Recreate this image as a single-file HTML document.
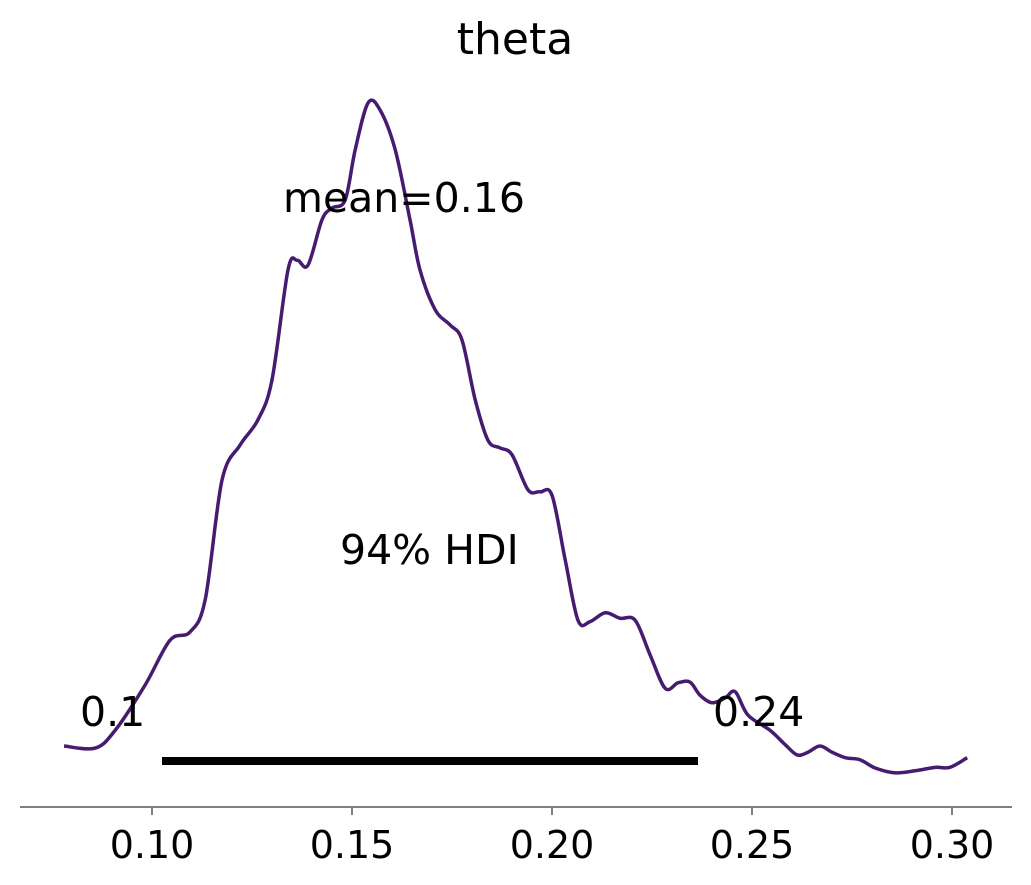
<!DOCTYPE html>
<html><head><meta charset="utf-8"><style>
html,body{margin:0;padding:0;background:#fff;}
svg{display:block;font-family:"DejaVu Sans","Liberation Sans",sans-serif;}
</style></head><body>
<svg id="chart" width="1031" height="885" viewBox="0 0 1031 885" xmlns="http://www.w3.org/2000/svg">
<text x="515" y="54" font-size="44" text-anchor="middle" fill="#000">theta</text>
<g id="axis"></g>
<g id="marks"></g>
</svg>
<script>
const xValues=[0.078,0.0858,0.0908,0.0983,0.1045,0.1095,0.1133,0.1175,0.122,0.1265,0.13,0.134,0.1363,0.139,0.1425,0.145,0.1483,0.1508,0.154,0.157,0.1608,0.1645,0.167,0.1708,0.1745,0.1775,0.1808,0.184,0.187,0.19,0.194,0.197,0.2,0.2033,0.2065,0.2095,0.2133,0.217,0.2208,0.2245,0.2283,0.2315,0.2345,0.237,0.24,0.2433,0.2458,0.249,0.2545,0.2583,0.2613,0.264,0.267,0.27,0.2733,0.277,0.2808,0.2858,0.2908,0.2958,0.2995,0.3038];
const densities=[6.4,6.1,8.7,15.3,21.8,23.0,27.7,45.1,50.2,53.9,59.7,75.7,77.1,76.4,83.0,84.7,85.9,93.2,100,99.0,93.2,83.0,75.7,69.9,67.7,65.5,56.8,50.9,49.8,48.8,43.7,43.4,42.9,33.5,24.7,24.5,25.8,25.0,24.7,19.7,14.8,15.6,15.7,13.8,12.7,13.4,14.3,10.9,8.7,6.6,5.1,5.5,6.4,5.5,4.7,4.4,3.2,2.5,2.8,3.3,3.3,4.7];
const tickValues=[0.10,0.15,0.20,0.25,0.30];
const tickLabels=["0.10","0.15","0.20","0.25","0.30"];
const hdiLow=0.1025, hdiHigh=0.2365;
const hdiLowLabel="0.1", hdiHighLabel="0.24";
const meanLabel="mean=0.16";

const NS="http://www.w3.org/2000/svg";
const xs=v=>152+(v-0.1)*4000;
const ys=d=>790-d*6.87;
const axis=document.getElementById('axis'), marks=document.getElementById('marks');
function mk(tag,attrs,parent){const e=document.createElementNS(NS,tag);for(const k in attrs)e.setAttribute(k,attrs[k]);parent.appendChild(e);return e;}

const al=mk('line',{x1:20,x2:1012,y1:807,y2:807,stroke:'#808080','stroke-width':2},axis);


tickValues.forEach((v,i)=>{
  const t=mk('line',{x1:xs(v),x2:xs(v),y1:807,y2:815,stroke:'#808080','stroke-width':2},axis);
  
  
  const l=mk('text',{x:xs(v),y:858,'font-size':38,'text-anchor':'middle',fill:'#000'},axis);
  
  
  l.textContent=tickLabels[i];
});

const P=xValues.map((v,i)=>[xs(v),ys(densities[i])]);
let d=`M${P[0][0]},${P[0][1]}`;
for(let i=0;i<P.length-1;i++){
  const p0=P[Math.max(i-1,0)],p1=P[i],p2=P[i+1],p3=P[Math.min(i+2,P.length-1)];
  const c1=[p1[0]+(p2[0]-p0[0])/6,p1[1]+(p2[1]-p0[1])/6];
  const c2=[p2[0]-(p3[0]-p1[0])/6,p2[1]-(p3[1]-p1[1])/6];
  d+=` C${c1[0]},${c1[1]} ${c2[0]},${c2[1]} ${p2[0]},${p2[1]}`;
}
const curve=mk('path',{d:d,fill:'none',stroke:'#461b70','stroke-width':3.5,'stroke-linejoin':'round'},marks);



const hdi=mk('line',{x1:xs(hdiLow),x2:xs(hdiHigh),y1:761,y2:761,stroke:'#000','stroke-width':8},marks);


const lo=mk('text',{x:80,y:726,'font-size':41,'text-anchor':'start',fill:'#000'},marks);


lo.textContent=hdiLowLabel;
const hi=mk('text',{x:713,y:726,'font-size':41,'text-anchor':'start',fill:'#000'},marks);


hi.textContent=hdiHighLabel;
const hl=mk('text',{x:340,y:564,'font-size':41,'text-anchor':'start',fill:'#000'},marks);


hl.textContent="94% HDI";
const ml=mk('text',{x:283,y:212,'font-size':41,'text-anchor':'start',fill:'#000'},marks);


ml.textContent=meanLabel;
</script>
</body></html>
